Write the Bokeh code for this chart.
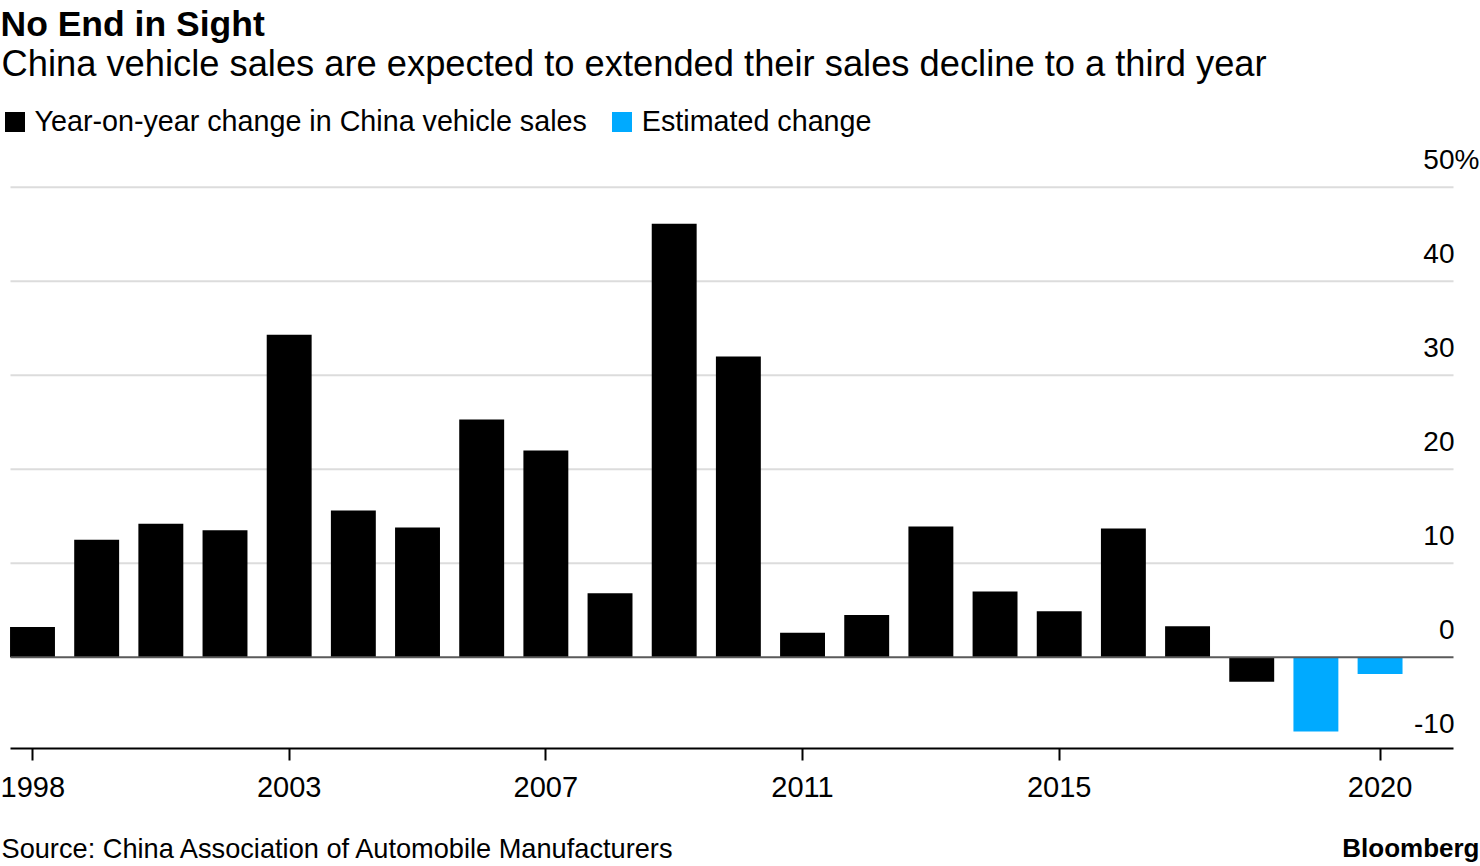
from bokeh.plotting import figure
from bokeh.layouts import column
from bokeh.models import (ColumnDataSource, Range1d, FixedTicker, LabelSet,
                          Legend, LegendItem)
from bokeh.core.properties import value
from bokeh.embed import file_html
from bokeh.resources import INLINE

# ---------------- data ----------------
title_text = "No End in Sight"
subtitle_text = "China vehicle sales are expected to extended their sales decline to a third year"
source_text = "Source: China Association of Automobile Manufacturers"
brand_text = "Bloomberg"
legend_labels = ["Year-on-year change in China vehicle sales", "Estimated change"]

years_actual = [1999, 2000, 2001, 2002, 2003, 2004, 2005, 2006, 2007, 2008,
                2009, 2010, 2011, 2012, 2013, 2014, 2015, 2016, 2017, 2018]
change_actual = [3.2, 12.5, 14.2, 13.5, 34.3, 15.6, 13.8, 25.3, 22.0, 6.8,
                 46.1, 32.0, 2.6, 4.5, 13.9, 7.0, 4.9, 13.7, 3.3, -2.6]
years_est = [2019, 2020]
change_est = [-7.9, -1.8]

x_tick_years = [1999, 2003, 2007, 2011, 2015, 2020]
x_tick_labels = ["1998", "2003", "2007", "2011", "2015", "2020"]
y_tick_values = [-10, 0, 10, 20, 30, 40, 50]
y_tick_labels = ["-10", "0", "10", "20", "30", "40", "50"]
y_grid_values = [10, 20, 30, 40, 50]
y_unit = "%"

# ---------------- layout constants (pixels) ----------------
W = 1480
H_MAIN = 812
H_FOOT = 866 - H_MAIN
FRAME_B = 748            # bottom of plotting frame (axis line)
PX_PER_YEAR = 64.17
X_FIRST_PX = 32.0        # centre of first bar
ZERO_PX = 656.7
PX_PER_PCT = 9.4
PLOT_L, PLOT_R = 10, 1453   # extent of grid / axis lines

X0 = years_actual[0] - X_FIRST_PX / PX_PER_YEAR
X1 = X0 + W / PX_PER_YEAR
Y1 = ZERO_PX / PX_PER_PCT
Y0 = -(FRAME_B - ZERO_PX) / PX_PER_PCT

FONT = "Liberation Sans"
BLUE = "#00aaff"


def fx(px):
    return X0 + px / PX_PER_YEAR


def fy(py):
    return (ZERO_PX - py) / PX_PER_PCT


def add_text(fig, xs, ys, texts, size, bold=False, align="left"):
    src = ColumnDataSource(dict(x=list(xs), y=list(ys), t=list(texts)))
    fig.add_layout(LabelSet(x="x", y="y", text="t", source=src, text_align=align,
                            text_baseline="alphabetic", text_font=value(FONT),
                            text_font_size=size,
                            text_font_style="bold" if bold else "normal",
                            text_color="black"))


p = figure(width=W, height=H_MAIN, output_backend="svg", toolbar_location=None, tools="",
           x_range=Range1d(X0, X1), y_range=Range1d(Y0, Y1),
           y_axis_location=None, title=None,
           min_border_left=0, min_border_right=0,
           min_border_top=0, min_border_bottom=H_MAIN - FRAME_B)
p.outline_line_color = None
p.background_fill_color = "white"
p.border_fill_color = "white"
p.xgrid.visible = False
p.ygrid.visible = False

# horizontal grid lines (limited to the plot width)
gsrc = ColumnDataSource(dict(y=y_grid_values,
                             x0=[fx(PLOT_L)] * len(y_grid_values),
                             x1=[fx(PLOT_R)] * len(y_grid_values)))
p.segment(x0="x0", x1="x1", y0="y", y1="y", source=gsrc,
          line_color="#dcdcdc", line_width=2)

src_a = ColumnDataSource(dict(x=years_actual, top=change_actual))
src_e = ColumnDataSource(dict(x=years_est, top=change_est))
r_a = p.vbar(x="x", top="top", bottom=0, width=0.70, source=src_a,
             fill_color="black", line_color=None)
r_e = p.vbar(x="x", top="top", bottom=0, width=0.70, source=src_e,
             fill_color=BLUE, line_color=None)

# zero line
zsrc = ColumnDataSource(dict(y=[0], x0=[fx(PLOT_L)], x1=[fx(PLOT_R)]))
p.segment(x0="x0", x1="x1", y0="y", y1="y", source=zsrc,
          line_color="#5a5a5a", line_width=2)

# x axis
ax = p.xaxis[0]
ax.bounds = (fx(PLOT_L), fx(PLOT_R))
ax.ticker = FixedTicker(ticks=x_tick_years)
ax.major_label_overrides = {y: l for y, l in zip(x_tick_years, x_tick_labels)}
ax.axis_line_color = "black"
ax.axis_line_width = 2
ax.major_tick_line_color = "black"
ax.major_tick_line_width = 2
ax.major_tick_out = 12
ax.major_tick_in = 0
ax.minor_tick_line_color = None
ax.major_label_text_font = FONT
ax.major_label_text_font_size = "29px"
ax.major_label_text_color = "black"
ax.major_label_standoff = 16

# y labels on the right, above each grid line
add_text(p, [fx(1454)] * len(y_tick_values),
         [v + 18 / PX_PER_PCT for v in y_tick_values], y_tick_labels, "28px", align="right")
add_text(p, [fx(1454)], [y_tick_values[-1] + 18 / PX_PER_PCT], [y_unit], "28px")

# titles
add_text(p, [fx(0)], [fy(35)], [title_text], "35.5px", bold=True)
add_text(p, [fx(1)], [fy(75)], [subtitle_text], "36.3px")

# legend
legend = Legend(items=[LegendItem(label=legend_labels[0], renderers=[r_a]),
                       LegendItem(label=legend_labels[1], renderers=[r_e])],
                orientation="horizontal", location=(1.5, FRAME_B - 137.5),
                glyph_width=25, glyph_height=25, label_standoff=8, spacing=22,
                padding=0, margin=0, border_line_color=None,
                background_fill_alpha=0, label_text_font=FONT,
                label_text_font_size="28.7px", label_text_color="black",
                label_height=25)
p.add_layout(legend, "center")

# footer
f = figure(width=W, height=H_FOOT, output_backend="svg", toolbar_location=None, tools="",
           x_range=Range1d(0, W), y_range=Range1d(0, H_FOOT),
           x_axis_location=None, y_axis_location=None, title=None,
           min_border_left=0, min_border_right=0, min_border_top=0, min_border_bottom=0)
f.outline_line_color = None
f.xgrid.visible = False
f.ygrid.visible = False
add_text(f, [1], [H_FOOT - (857 - H_MAIN)], [source_text], "27.2px")
add_text(f, [W - 1], [H_FOOT - (856 - H_MAIN)], [brand_text], "26px", bold=True, align="right")

layout = column(p, f, spacing=0)
open("out.html", "w").write(file_html(layout, INLINE))
